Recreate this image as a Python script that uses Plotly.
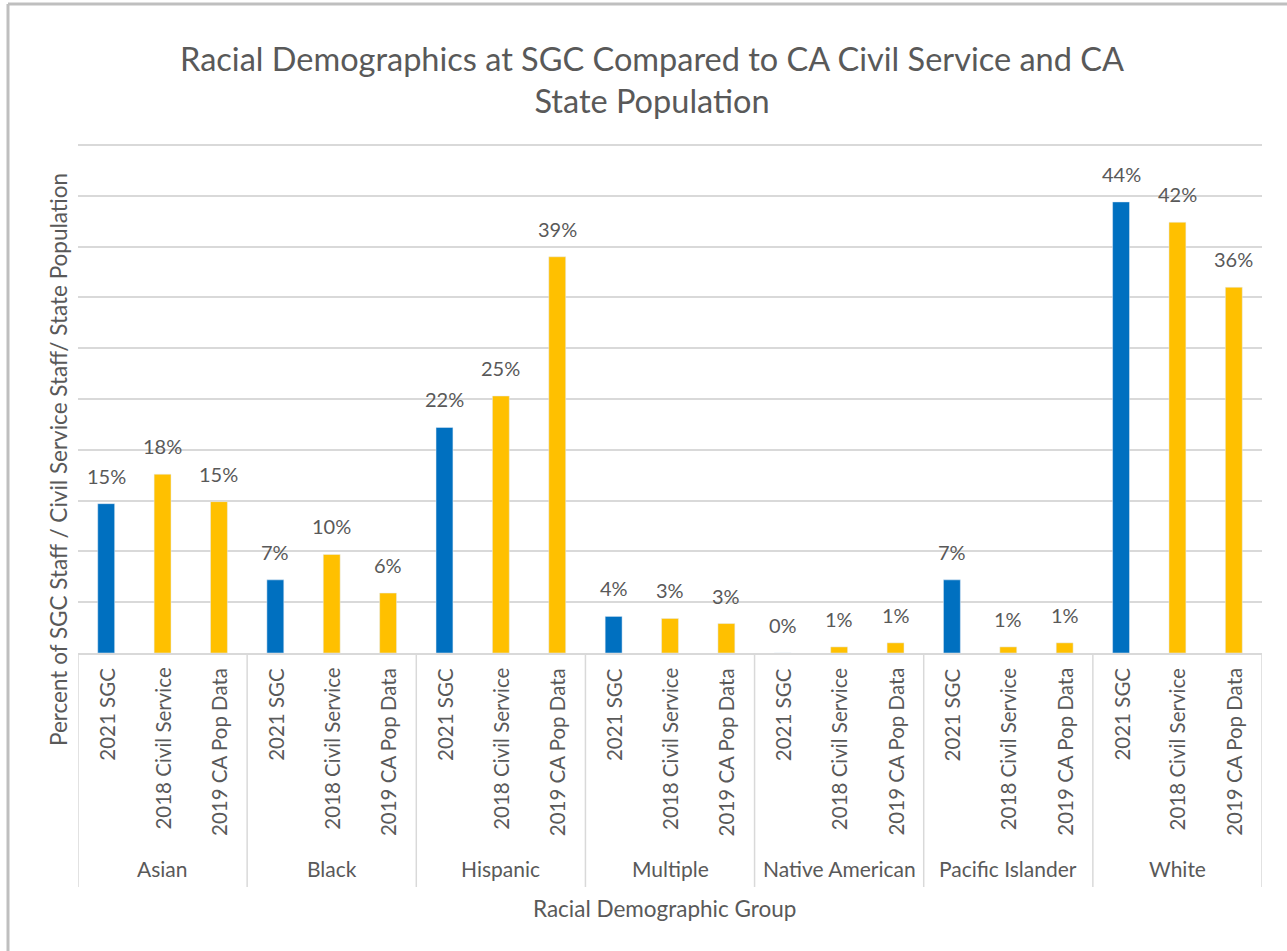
import plotly.graph_objects as go

groups = ["Asian", "Black", "Hispanic", "Multiple", "Native American", "Pacific Islander", "White"]
series_names = ["2021 SGC", "2018 Civil Service", "2019 CA Pop Data"]
sgc_2021 = [0.147, 0.072, 0.222, 0.036, 0.0, 0.072, 0.444]
civil_2018 = [0.176, 0.097, 0.253, 0.034, 0.006, 0.006, 0.424]
pop_2019 = [0.149, 0.059, 0.390, 0.029, 0.010, 0.010, 0.360]
series_values = [sgc_2021, civil_2018, pop_2019]
series_colors = ["#0070C0", "#FFC000", "#FFC000"]

FONT = "Lato"
GREY = "#595959"
GRID = "#D9D9D9"
W, H = 1287, 951
L, R, T, B = 78, 25, 143, 298
Y_MAX = 0.502

n_sub = len(series_names)
fig = go.Figure()
annotations = []
for s, (name, vals, col) in enumerate(zip(series_names, series_values, series_colors)):
    xs = [g * n_sub + s for g in range(len(groups))]
    fig.add_trace(go.Bar(
        x=xs, y=vals, name=name, marker_color=col, width=0.3,
        showlegend=False, hoverinfo="skip",
    ))
    for x, v in zip(xs, vals):
        annotations.append(dict(
            x=x, xref="x", y=v, yref="y", yanchor="bottom", xanchor="center",
            yshift=14, text=f"{round(v * 100):.0f}%", showarrow=False,
            font=dict(family=FONT, size=20, color=GREY),
        ))

shapes = []
plot_h = H - T - B
pw = W - L - R
for g, grp in enumerate(groups):
    for s, name in enumerate(series_names):
        annotations.append(dict(
            x=g * n_sub + s, xref="x", y=0, yref="paper", yanchor="top", xanchor="center",
            yshift=-13, text=name, textangle=-90, showarrow=False,
            font=dict(family=FONT, size=20.5, color=GREY),
        ))
    annotations.append(dict(
        x=g * n_sub + (n_sub - 1) / 2, xref="x", y=-215 / plot_h, yref="paper",
        yanchor="middle", xanchor="center", text=grp, showarrow=False,
        font=dict(family=FONT, size=21, color=GREY),
    ))
for g in range(len(groups) + 1):
    shapes.append(dict(type="line", xref="x", yref="paper",
                       x0=g * n_sub - 0.5, x1=g * n_sub - 0.5, y0=0, y1=-234 / plot_h,
                       line=dict(color=GRID, width=1.5)))

# x axis title
annotations.append(dict(x=(664 - L) / pw, xref="paper", y=-255 / plot_h, yref="paper", yanchor="middle",
                        text="Racial Demographic Group", showarrow=False,
                        font=dict(family=FONT, size=22.5, color=GREY)))
# y axis title
annotations.append(dict(x=(58 - L) / pw, xref="paper", y=(653 - 460) / plot_h, yref="paper",
                        xanchor="center", yanchor="middle", textangle=-90,
                        text="Percent of SGC Staff / Civil Service Staff/ State Population",
                        showarrow=False, font=dict(family=FONT, size=22.5, color=GREY)))

# chart border (top and left)
shapes.append(dict(type="line", xref="paper", yref="paper",
                   x0=(8 - L) / pw, x1=(W - L) / pw, y0=(H - B - 4) / plot_h, y1=(H - B - 4) / plot_h,
                   line=dict(color="#BFBFBF", width=3)))
shapes.append(dict(type="line", xref="paper", yref="paper",
                   x0=(8 - L) / pw, x1=(8 - L) / pw, y0=(H - B - 4) / plot_h, y1=-B / plot_h,
                   line=dict(color="#BFBFBF", width=3)))

fig.update_layout(
    width=W, height=H,
    margin=dict(l=L, r=R, t=T, b=B),
    paper_bgcolor="white", plot_bgcolor="white",
    title=dict(text="Racial Demographics at SGC Compared to CA Civil Service and CA<br>State Population",
               x=(652) / W, xanchor="center", xref="container", y=1 - 71 / H, yanchor="middle", yref="container",
               font=dict(family=FONT, size=32.5, color=GREY)),
    xaxis=dict(range=[-0.5, len(groups) * n_sub - 0.5], showticklabels=False, showgrid=False,
               zeroline=False, showline=True, linecolor=GRID, linewidth=1.5, ticks=""),
    yaxis=dict(range=[0, Y_MAX], tick0=0, dtick=0.05, showticklabels=False, showgrid=True, gridcolor=GRID,
               gridwidth=1.5, zeroline=False, showline=False),
    annotations=annotations, shapes=shapes,
    bargap=0.7,
)

fig.write_html("out.html", config={"displayModeBar": False},
               post_script="document.body.style.margin='0px';")
